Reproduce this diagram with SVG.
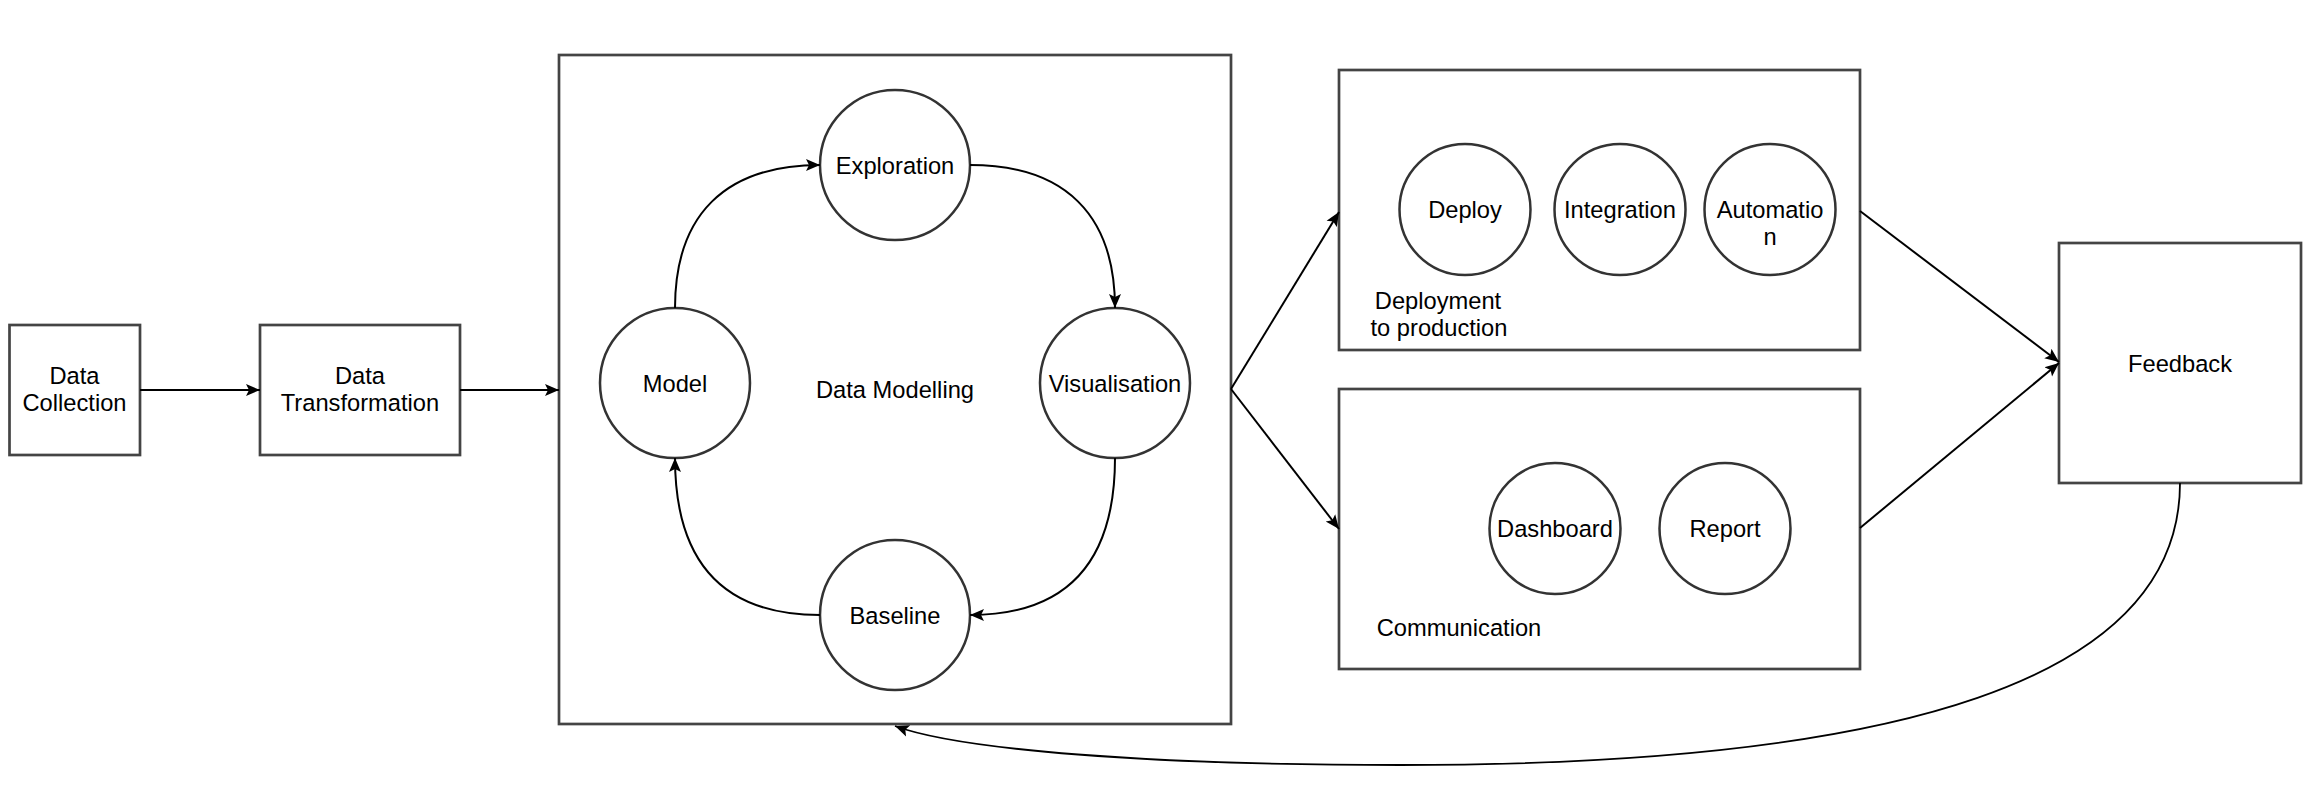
<svg xmlns="http://www.w3.org/2000/svg" width="2320" height="789" viewBox="0 0 2320 789">
<style>
  .box { fill: #ffffff; stroke: #444444; stroke-width: 2.7; }
  .node { fill: #ffffff; stroke: #333333; stroke-width: 2.5; }
  .lbl { font-family: "Liberation Sans", Arial, Helvetica, sans-serif; font-size: 23.7px; fill: #000000; text-anchor: middle; }
  .edge { fill: none; stroke: #000000; stroke-width: 2; }
  .thin { fill: none; stroke: #000000; stroke-width: 1.8; }
</style>
<defs>
  <marker id="arr" markerUnits="userSpaceOnUse" markerWidth="16" markerHeight="14" refX="14" refY="7" orient="auto" viewBox="0 0 16 14">
    <path d="M0,1 L14,7 L0,13 L3,7 Z" fill="#000000"/>
  </marker>
</defs>
<rect width="2320" height="789" fill="#ffffff"/>

<g id="data-collection">
  <rect class="box" x="9.5" y="325" width="130.5" height="130"/>
  <text class="lbl" x="74.5" y="383.5">Data</text>
  <text class="lbl" x="74.5" y="411">Collection</text>
</g>

<g id="data-transformation">
  <rect class="box" x="260" y="325" width="200" height="130"/>
  <text class="lbl" x="360" y="383.5">Data</text>
  <text class="lbl" x="360" y="411">Transformation</text>
</g>

<g id="data-modelling">
  <rect class="box" x="559" y="55" width="672" height="669"/>
  <text class="lbl" x="895" y="397.5">Data Modelling</text>
</g>

<g id="exploration">
  <circle class="node" cx="895" cy="165" r="75"/>
  <text class="lbl" x="895" y="173.5">Exploration</text>
</g>
<g id="visualisation">
  <circle class="node" cx="1115" cy="383" r="75"/>
  <text class="lbl" x="1115" y="391.5">Visualisation</text>
</g>
<g id="baseline">
  <circle class="node" cx="895" cy="615" r="75"/>
  <text class="lbl" x="895" y="623.5">Baseline</text>
</g>
<g id="model">
  <circle class="node" cx="675" cy="383" r="75"/>
  <text class="lbl" x="675" y="391.5">Model</text>
</g>

<g id="deployment">
  <rect class="box" x="1339" y="70" width="521" height="280"/>
  <text class="lbl" x="1438" y="309">Deployment</text>
  <text class="lbl" x="1439" y="336">to production</text>
</g>
<g id="deploy">
  <ellipse class="node" cx="1465" cy="209.5" rx="65.5" ry="65.5"/>
  <text class="lbl" x="1465" y="217.5">Deploy</text>
</g>
<g id="integration">
  <ellipse class="node" cx="1620" cy="209.5" rx="65.5" ry="65.5"/>
  <text class="lbl" x="1620" y="217.5">Integration</text>
</g>
<g id="automation">
  <ellipse class="node" cx="1770" cy="209.5" rx="65.5" ry="65.5"/>
  <text class="lbl" x="1770" y="217.5">Automatio</text>
  <text class="lbl" x="1770" y="244.5">n</text>
</g>

<g id="communication">
  <rect class="box" x="1339" y="389" width="521" height="280"/>
  <text class="lbl" x="1459" y="635.5">Communication</text>
</g>
<g id="dashboard">
  <ellipse class="node" cx="1555" cy="528.5" rx="65.5" ry="65.5"/>
  <text class="lbl" x="1555" y="537">Dashboard</text>
</g>
<g id="report">
  <ellipse class="node" cx="1725" cy="528.5" rx="65.5" ry="65.5"/>
  <text class="lbl" x="1725" y="537">Report</text>
</g>

<g id="feedback">
  <rect class="box" x="2059" y="243" width="242" height="240"/>
  <text class="lbl" x="2180" y="371.5">Feedback</text>
</g>

<g id="connectors">
  <path class="edge" d="M140,390 L260,390" marker-end="url(#arr)"/>
  <path class="edge" d="M460,390 L559,390" marker-end="url(#arr)"/>
  <path class="edge" d="M675,308 C675,215 725,165 820,165" marker-end="url(#arr)"/>
  <path class="edge" d="M970,165 C1065,165 1115,215 1115,308" marker-end="url(#arr)"/>
  <path class="edge" d="M1115,458 C1115,565 1065,615 970,615" marker-end="url(#arr)"/>
  <path class="edge" d="M820,615 C725,615 675,565 675,458" marker-end="url(#arr)"/>
  <path class="edge" d="M1231,389 L1339,212" marker-end="url(#arr)"/>
  <path class="edge" d="M1231,389 L1339,529" marker-end="url(#arr)"/>
  <path class="edge" d="M1860,211 L2059,362" marker-end="url(#arr)"/>
  <path class="edge" d="M1860,528 L2059,363" marker-end="url(#arr)"/>
  <path class="thin" d="M2180,483 C2180,680 1900,765 1400,765 C1150,765 960,750 895,726" marker-end="url(#arr)"/>
</g>
</svg>
